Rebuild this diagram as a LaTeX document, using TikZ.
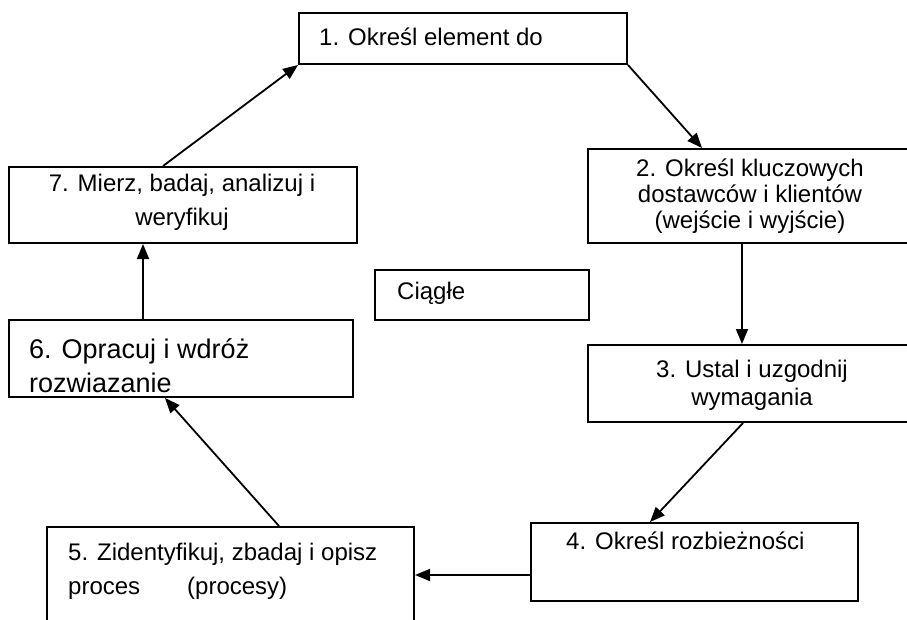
\documentclass[tikz,border=0pt]{standalone}
\usepackage{fontspec}
\setmainfont{Liberation Sans}
\usetikzlibrary{arrows.meta}
\begin{document}
\begin{tikzpicture}[x=1pt,y=-1pt,
  box/.style={draw=black, line width=2pt, fill=white, inner sep=0pt, anchor=north west},
  txt/.style={font=\fontsize{24}{28}\selectfont, inner sep=0pt},
  bigtxt/.style={font=\fontsize{27}{32}\selectfont, inner sep=0pt},
  conn/.style={line width=1.8pt, -{Triangle[length=15pt,width=12pt]}}]
\clip (0,0) rectangle (907,619);
\fill[white] (0,0) rectangle (907,619);
% boxes
\node[box, minimum width=328, minimum height=51] (b1) at (298,12) {};
\node[box, minimum width=330, minimum height=94] (b2) at (587,148) {};
\node[box, minimum width=330, minimum height=77] (b3) at (587,344) {};
\node[box, minimum width=327, minimum height=78] (b4) at (530,522) {};
\node[box, minimum width=367, minimum height=120] (b5) at (46,526) {};
\node[box, minimum width=344, minimum height=77] (b6) at (8,319) {};
\node[box, minimum width=348, minimum height=76] (b7) at (8,166) {};
\node[box, minimum width=214, minimum height=50] (bc) at (374,269) {};
% texts
\node[txt, anchor=base west] (t1) at (319,45) {1. Określ element do};
\node[txt, anchor=base] (t2a) at (750,176) {2. Określ kluczowych};
\node[txt, anchor=base] (t2b) at (750,202) {dostawców i klientów};
\node[txt, anchor=base] (t2c) at (750,228) {(wejście i wyjście)};
\node[txt, anchor=base] (t3a) at (752,377) {3. Ustal i uzgodnij};
\node[txt, anchor=base] (t3b) at (752,405) {wymagania};
\node[txt, anchor=base west] (t4) at (566,549) {4. Określ rozbieżności};
\node[txt, anchor=base west] (t5a) at (68,560) {5. Zidentyfikuj, zbadaj i opisz};
\node[txt, anchor=base west] (t5b) at (68,594) {proces\hspace*{47pt}(procesy)};
\node[bigtxt, anchor=base west] (t6a) at (29,358) {6. Opracuj i wdróż};
\node[bigtxt, anchor=base west] (t6b) at (29,392) {rozwiazanie};
\node[txt, anchor=base] (t7a) at (182,191) {7. Mierz, badaj, analizuj i};
\node[txt, anchor=base] (t7b) at (182,225) {weryfikuj};
\node[txt, anchor=base west] (tc) at (397,299) {Ciągłe};
% connectors
\draw[conn] ([xshift=155pt]b7.north west) -- (b1.south west);
\draw[conn] (b1.south east) -- ([xshift=115pt]b2.north west);
\draw[conn] ([xshift=155pt]b2.south west) -- ([xshift=155pt]b3.north west);
\draw[conn] ([xshift=156pt]b3.south west) -- ([xshift=120pt]b4.north west);
\draw[conn] ([yshift=-53pt]b4.north west) -- ([yshift=-49pt]b5.north east);
\draw[conn] ([xshift=233pt]b5.north west) -- ([xshift=157pt]b6.south west);
\draw[conn] ([xshift=135pt]b6.north west) -- ([xshift=135pt]b7.south west);
\end{tikzpicture}
\end{document}
